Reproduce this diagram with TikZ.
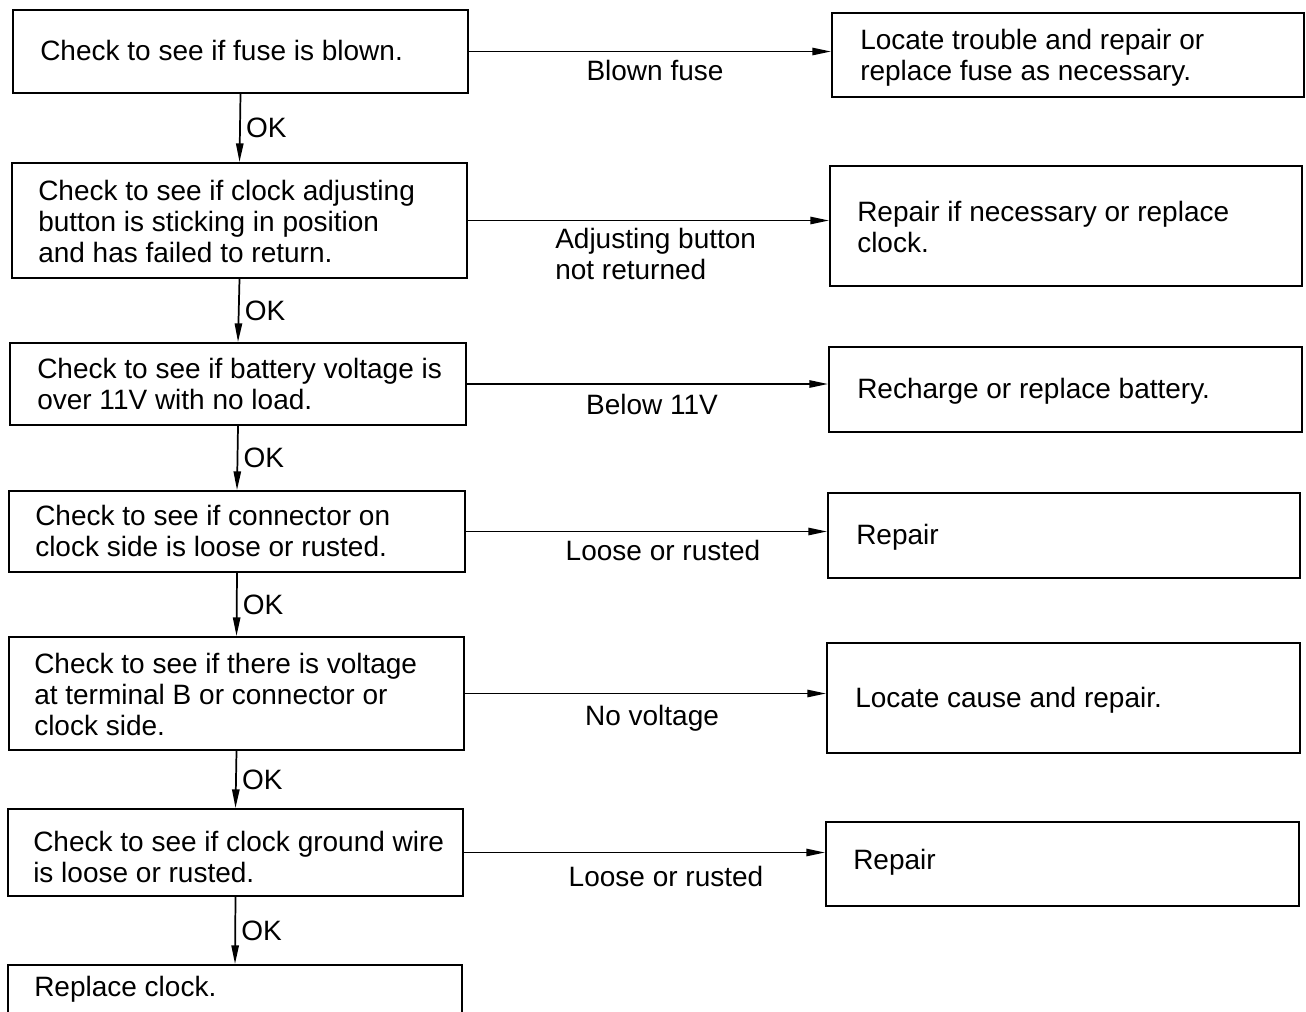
\documentclass[tikz,border=0pt]{standalone}
\usepackage{fontspec}
\setmainfont{Liberation Sans}
\usetikzlibrary{arrows.meta,fit}
\begin{document}
\begin{tikzpicture}[x=0.75pt,y=-0.75pt,
  box/.style={draw, line width=1.5pt, inner sep=0pt},
  txt/.style={font=\fontsize{21pt}{23.25pt}\selectfont, align=left, inner sep=0pt, anchor=west},
  lbl/.style={font=\fontsize{21pt}{23.25pt}\selectfont, align=left, inner sep=0pt},
  arr/.style={-{Triangle[length=14pt,width=5.5pt]}, line width=1.3pt},
  ok/.style={font=\fontsize{21pt}{23.25pt}\selectfont, inner sep=0pt, anchor=west, xshift=4pt}]
\useasboundingbox (0,0) rectangle (1306,1011);

% left column boxes
\node[box, fit={(13,10) (468,93)}] (c1) {};
\node[box, fit={(12,163) (467,278)}] (c2) {};
\node[box, fit={(10,343) (466,425)}] (c3) {};
\node[box, fit={(9,491) (465,572)}] (c4) {};
\node[box, fit={(9,637) (464,750)}] (c5) {};
\node[box, fit={(8,809) (463,896)}] (c6) {};
\node[box, fit={(8,965) (462,1040)}] (c7) {};

% right column boxes
\node[box, fit={(832,13) (1304,97)}] (r1) {};
\node[box, fit={(830,166) (1302,286)}] (r2) {};
\node[box, fit={(829,347) (1302,432)}] (r3) {};
\node[box, fit={(828,493) (1300,578)}] (r4) {};
\node[box, fit={(827,643) (1300,753)}] (r5) {};
\node[box, fit={(826,822) (1299,906)}] (r6) {};

% left texts
\node[txt] (t1) at (40,50) {Check to see if fuse is blown.};
\node[txt] (t2) at (38,221) {Check to see if clock adjusting\\button is sticking in position\\and has failed to return.};
\node[txt] (t3) at (37,384) {Check to see if battery voltage is\\over 11V with no load.};
\node[txt] (t4) at (35,531) {Check to see if connector on\\clock side is loose or rusted.};
\node[txt] (t5) at (34,694) {Check to see if there is voltage\\at terminal B or connector or\\clock side.};
\node[txt] (t6) at (33,857) {Check to see if clock ground wire\\is loose or rusted.};
\node[txt] (t7) at (34,989) {Replace clock.};

% right texts
\node[txt] (s1) at (860,57.5) {Locate trouble and repair or\\replace fuse as necessary.};
\node[txt] (s2) at (857,227) {Repair if necessary or replace\\clock.};
\node[txt] (s3) at (857,391) {Recharge or replace battery.};
\node[txt] (s4) at (856,537) {Repair};
\node[txt] (s5) at (855,700) {Locate cause and repair.};
\node[txt] (s6) at (853,862) {Repair};

% horizontal connectors
\draw[arr] (c1.east) -- (c1.east -| r1.west);
\draw[arr] (c2.east) -- (c2.east -| r2.west);
\draw[arr] (c3.east) -- (c3.east -| r3.west);
\draw[arr] (c4.east) -- (c4.east -| r4.west);
\draw[arr] (c5.east) -- (c5.east -| r5.west);
\draw[arr] (c6.east) -- (c6.east -| r6.west);

% connector labels
\node[lbl] (l1) at (655,70) {Blown fuse};
\node[lbl, anchor=west] (l2) at (555,254) {Adjusting button\\not returned};
\node[lbl] (l3) at (652,404) {Below 11V};
\node[lbl] (l4) at (663,550) {Loose or rusted};
\node[lbl] (l5) at (652,718) {No voltage};
\node[lbl] (l6) at (666,876) {Loose or rusted};

% vertical connectors
\draw[arr] (c1.south) -- node[ok] {OK} (c2.north);
\draw[arr] (c2.south) -- node[ok] {OK} (c3.north);
\draw[arr] (c3.south) -- node[ok] {OK} (c4.north);
\draw[arr] (c4.south) -- node[ok] {OK} (c5.north);
\draw[arr] (c5.south) -- node[ok] {OK} (c6.north);
\draw[arr] (c6.south) -- node[ok] {OK} (c7.north);
\end{tikzpicture}
\end{document}
